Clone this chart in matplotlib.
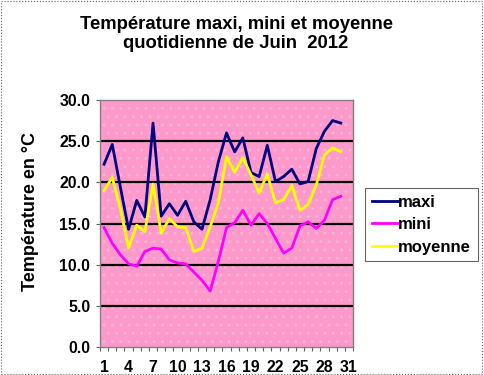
import matplotlib
matplotlib.use("Agg")
import matplotlib.pyplot as plt
from matplotlib.patches import Rectangle
import numpy as np

plt.rcParams['font.family'] = ['Liberation Sans', 'DejaVu Sans']
plt.rcParams['font.weight'] = 'bold'
plt.rcParams['hatch.linewidth'] = 0.8

# daily values, June 2012
days = list(range(1, 31))
maxi = [22.2, 24.6, 19.4, 14.3, 17.8, 15.8, 27.2, 15.9, 17.4, 16.0,
        17.7, 15.2, 14.3, 17.9, 22.5, 26.0, 23.7, 25.4, 21.2, 20.7,
        24.5, 20.1, 20.7, 21.6, 19.8, 20.1, 24.1, 26.2, 27.5, 27.2]
mini = [14.5, 12.6, 11.2, 10.1, 9.8, 11.6, 12.0, 11.9, 10.6, 10.2,
        10.1, 9.1, 8.1, 6.8, 10.4, 14.5, 15.1, 16.6, 14.8, 16.2,
        15.0, 13.2, 11.4, 12.0, 14.7, 15.2, 14.4, 15.4, 17.9, 18.3]
moyenne = [19.0, 20.6, 16.8, 12.0, 14.8, 14.0, 19.8, 13.8, 15.6, 14.6,
           14.5, 11.6, 12.0, 14.6, 17.5, 23.1, 21.2, 23.0, 20.9, 18.7,
           21.0, 17.5, 17.9, 19.6, 16.6, 17.3, 19.7, 23.3, 24.2, 23.7]
xlabels = [str(d) for d in range(1, 32, 3)]
yticks = [0, 5, 10, 15, 20, 25, 30]

fig = plt.figure(figsize=(4.84, 3.75), dpi=100)
ax = fig.add_axes([100/484, 1-347/375, 253/484, 247/375])

# pink patterned background
ax.set_facecolor('#FF99CC')
ax.add_patch(Rectangle((0, 0), 1, 1, transform=ax.transAxes, facecolor='none',
                       edgecolor='#F2B8D8', hatch='..', lw=0, zorder=0.5))

for y in yticks[1:-1]:
    ax.axhline(y, color='black', lw=1.6, zorder=1)

ax.plot(days, maxi, color='#000080', lw=2.0, label='maxi', zorder=3)
ax.plot(days, mini, color='#FF00FF', lw=2.0, label='mini', zorder=3)
ax.plot(days, moyenne, color='#FFFF00', lw=2.0, label='moyenne', zorder=3)

ax.set_xlim(0.5, 31.5)
ax.set_ylim(0, 30)
ax.set_yticks(yticks)
ax.set_yticklabels(['%.1f' % v for v in yticks])
ax.set_xticks(range(1, 32, 3))
ax.set_xticklabels(xlabels)
ax.set_xticks(np.arange(0.5, 32, 1), minor=True)
ax.tick_params(axis='x', which='major', length=0, pad=9, labelsize=11.4)
ax.tick_params(axis='x', which='minor', length=3, width=0.8, color='#606060', direction='out')
ax.tick_params(axis='y', length=3, width=0.8, color='#606060', labelsize=11.4, pad=4)
for s in ax.spines.values():
    s.set_color('#808080')
    s.set_linewidth(1.0)

ax.set_ylabel('Température en °C', fontsize=13, fontweight='bold')
ax.yaxis.set_label_coords(-0.24, 0.55)

fig.text(236/484, 1-34/375, 'Température maxi, mini et moyenne\nquotidienne de Juin  2012',
         ha='center', va='center', fontsize=13.3, fontweight='bold', linespacing=1.15)

leg = fig.legend(loc='upper left', bbox_to_anchor=(365/484, 1-188/375),
                 frameon=True, fancybox=False, fontsize=12, handlelength=1.6,
                 handletextpad=0.0, labelspacing=0.45, borderpad=0.4,
                 borderaxespad=0)
leg.get_frame().set_edgecolor('#404040')
leg.get_frame().set_linewidth(0.8)

# dotted outer border of the chart area
fig.patches.append(Rectangle((0.002, 0.003), 0.994, 0.994, transform=fig.transFigure,
                             fill=False, ls=':', lw=0.8, edgecolor='#606060'))

fig.savefig('out.png', dpi=100)
